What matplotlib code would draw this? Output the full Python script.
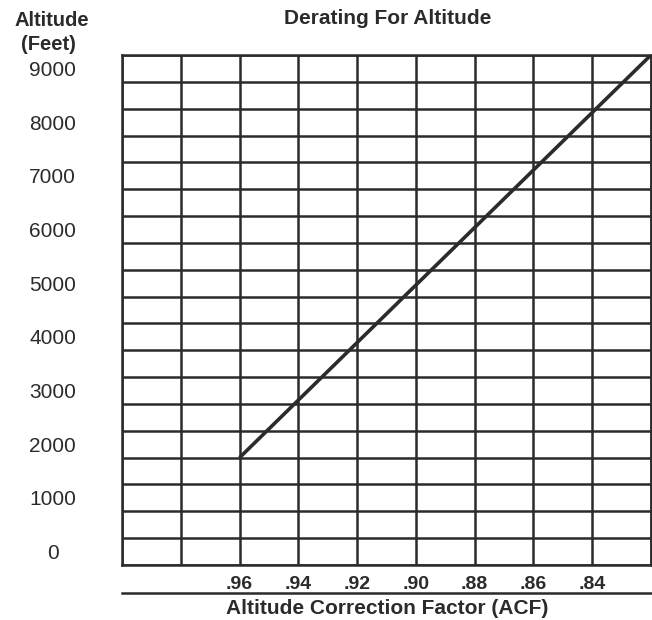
import numpy as np
import matplotlib
matplotlib.use("Agg")
import matplotlib.pyplot as plt
from matplotlib.ticker import FixedLocator

plt.rcParams["font.family"] = ["Liberation Sans", "DejaVu Sans"]

# data
acf = [0.96, 0.82]
altitude = [1750, 9250]

alt_ticks = [0, 1000, 2000, 3000, 4000, 5000, 6000, 7000, 8000, 9000]
alt_labels = [str(v) for v in alt_ticks]
acf_ticks = [0.96, 0.94, 0.92, 0.90, 0.88, 0.86, 0.84]
acf_labels = [".96", ".94", ".92", ".90", ".88", ".86", ".84"]
acf_grid = [1.00, 0.98, 0.96, 0.94, 0.92, 0.90, 0.88, 0.86, 0.84, 0.82]
alt_grid = list(range(-250, 9251, 500))

W, H = 652, 620
ink = "#2b2b2b"

fig = plt.figure(figsize=(W / 100, H / 100), dpi=100)
ax = fig.add_axes([122 / W, 1 - 565 / H, 529 / W, 510 / H])

ax.set_xlim(1.00, 0.82)
ax.set_ylim(-250, 9250)

# grid: every .02 across, every 500 ft up (offset half a step from the labels)
ax.xaxis.remove_overlapping_locs = False
ax.xaxis.set_minor_locator(FixedLocator(acf_grid))
ax.yaxis.set_minor_locator(FixedLocator(alt_grid))
ax.xaxis.grid(True, which="minor", color=ink, linewidth=1.8)
ax.yaxis.grid(True, which="minor", color=ink, linewidth=1.8)
ax.set_axisbelow(True)

ax.set_xticks(acf_ticks)
ax.set_xticklabels(acf_labels, fontsize=14, fontweight="bold", color=ink)
ax.set_yticks(alt_ticks)
ax.set_yticklabels(alt_labels, fontsize=15, color=ink, ha="center")
ax.tick_params(which="both", length=0)
ax.tick_params(axis="x", pad=8)
ax.tick_params(axis="y", pad=50)

for s in ax.spines.values():
    s.set_color(ink)
    s.set_linewidth(1.8)

ax.plot(acf, altitude, color=ink, linewidth=2.6, solid_capstyle="butt")

# rule under the tick labels
ax.plot([0, 1], [-(593 - 565) / 510] * 2, transform=ax.transAxes, color=ink,
        linewidth=1.8, clip_on=False)

ax.set_xlabel("Altitude Correction Factor (ACF)", fontsize=15, fontweight="bold",
              color=ink, va="center")
ax.xaxis.set_label_coords((387 - 122) / 529, -(609 - 565) / 510)

fig.text(388 / W, 1 - 19 / H, "Derating For Altitude", ha="center", va="center",
         fontsize=15, fontweight="bold", color=ink)
fig.text(52 / W, 1 - 20 / H, "Altitude", ha="center", va="center",
         fontsize=14.5, fontweight="bold", color=ink)
fig.text(48 / W, 1 - 45 / H, "(Feet)", ha="center", va="center",
         fontsize=14.5, fontweight="bold", color=ink)

fig.savefig("out.png", dpi=100, facecolor="white")
